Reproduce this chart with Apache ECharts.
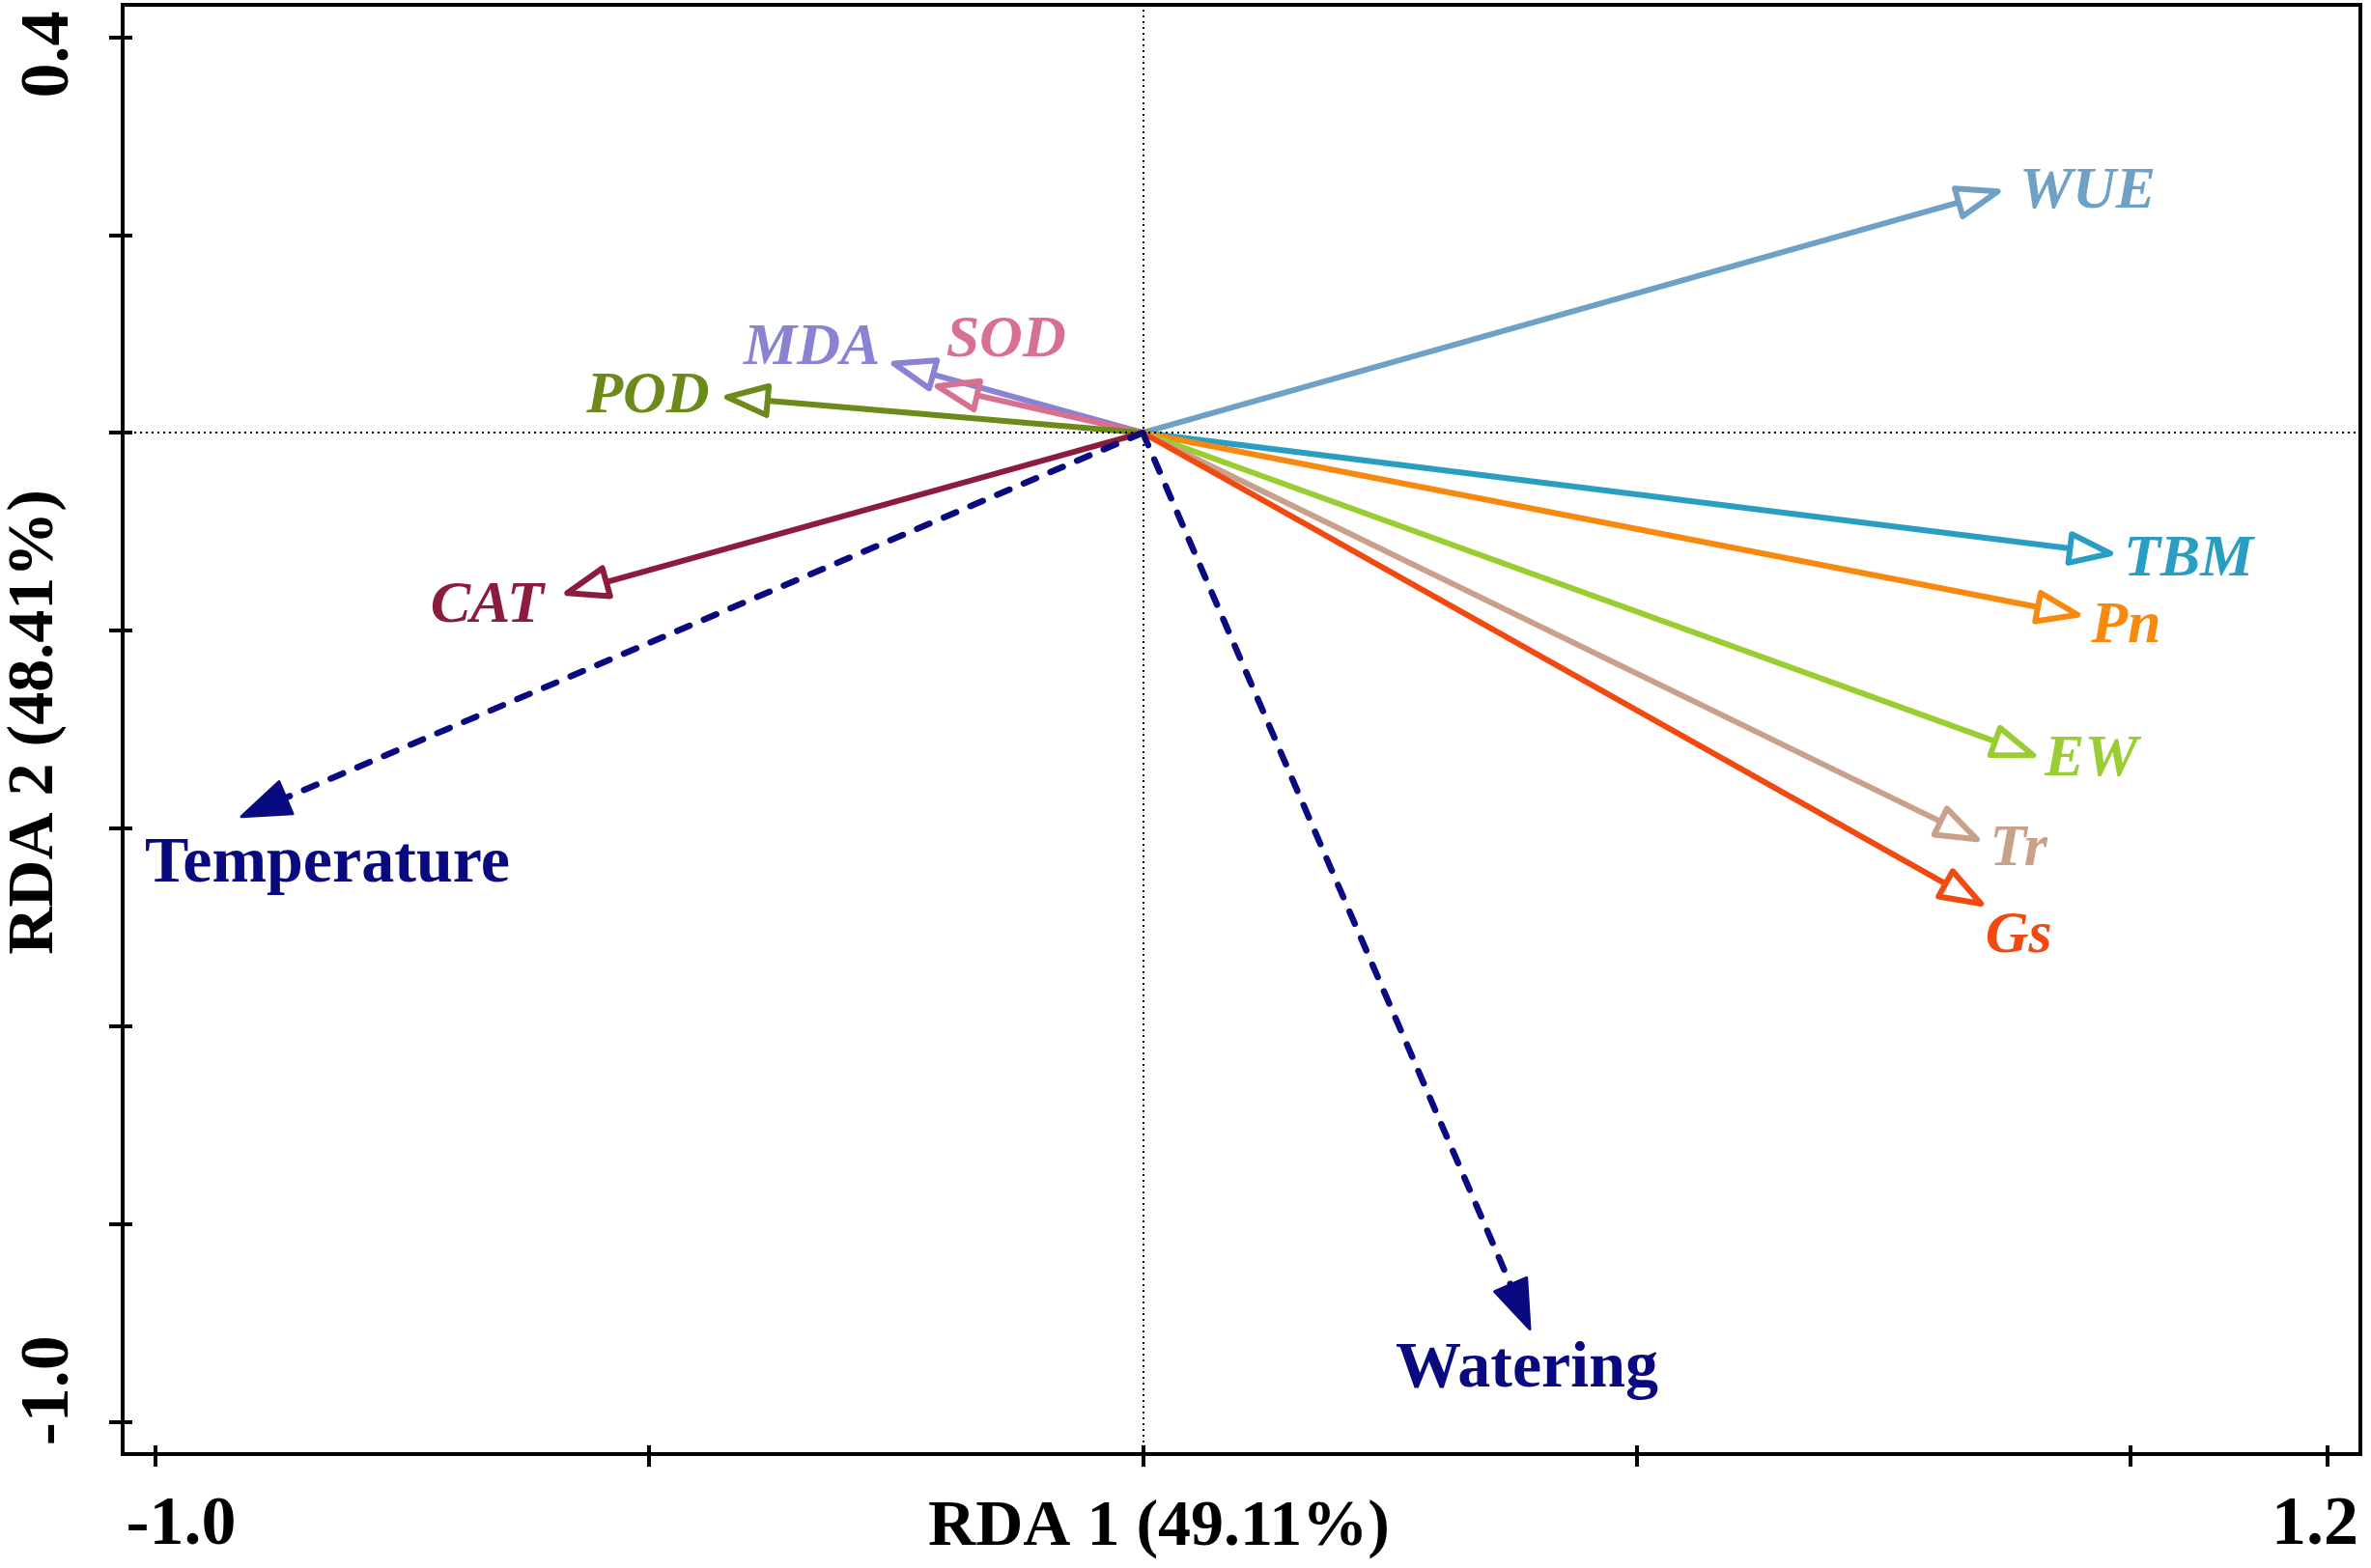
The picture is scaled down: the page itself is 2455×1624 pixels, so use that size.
<!DOCTYPE html>
<html>
<head>
<meta charset="utf-8">
<script src="https://cdn.jsdelivr.net/npm/echarts@6.0.0/dist/echarts.min.js"></script>
<style>
  html, body { margin: 0; padding: 0; background: #ffffff; }
  #chart { width: 2455px; height: 1624px; }
</style>
</head>
<body>
<div id="chart"></div>
<script>
// ---- data ----
const variables = ['WUE', 'TBM', 'Pn', 'EW', 'Tr', 'Gs', 'MDA', 'SOD', 'POD', 'CAT'];
const rda1 = [0.866, 0.980, 0.947, 0.902, 0.845, 0.849, -0.252, -0.208, -0.421, -0.583];
const rda2 = [0.244, -0.122, -0.184, -0.326, -0.411, -0.476, 0.070, 0.047, 0.036, -0.162];
const envFactors = ['Temperature', 'Watering'];
const envRda1 = [-0.913, 0.392];
const envRda2 = [-0.388, -0.906];
const xTicks = [-1.0, -0.5, 0, 0.5, 1.0, 1.2];
const xTickLabels = [-1.0, 1.2];
const yTicks = [-1.0, -0.8, -0.6, -0.4, -0.2, 0, 0.2, 0.4];
const yTickLabels = [-1.0, 0.4];
const xName = 'RDA 1 (49.11%)';
const yName = 'RDA 2 (48.41%)';

// ---- styles ----
const FONT = 'Liberation Serif, Times New Roman, serif';
const varColors = {
  WUE: '#6FA1C6', TBM: '#2A9DC2', Pn: '#F7890F', EW: '#9ACD32', Tr: '#C9A08A',
  Gs: '#F04A10', MDA: '#8A82D2', SOD: '#D8708F', POD: '#6B8A1A', CAT: '#8B1C3C'
};
const envColor = '#0A0A80';
// label centre offsets from the arrow tip, in pixels
const labelOffsets = {
  WUE: [93, 1], TBM: [81, 7], Pn: [50, 12], EW: [60, 5], Tr: [43, 11], Gs: [39, 34],
  MDA: [-85, -16], SOD: [71, -47], POD: [-82, 0], CAT: [-83, 14],
  Temperature: [89, 50], Watering: [-3, 42]
};

function arrowGeom(api, x, y, depth, hw) {
  const o = api.coord([0, 0]);
  const t = api.coord([x, y]);
  const dx = t[0] - o[0], dy = t[1] - o[1];
  const len = Math.hypot(dx, dy);
  const ux = dx / len, uy = dy / len;
  const b = [t[0] - ux * depth, t[1] - uy * depth];
  const p1 = [b[0] - uy * hw, b[1] + ux * hw];
  const p2 = [b[0] + uy * hw, b[1] - ux * hw];
  return { o, t, b, p1, p2 };
}

function renderVar(params, api) {
  const i = params.dataIndex;
  const name = variables[i];
  const col = varColors[name];
  const g = arrowGeom(api, api.value(0), api.value(1), 42, 15);
  const off = labelOffsets[name];
  return {
    type: 'group',
    children: [
      { type: 'line', shape: { x1: g.o[0], y1: g.o[1], x2: g.b[0], y2: g.b[1] },
        style: { stroke: col, lineWidth: 6 } },
      { type: 'polygon', shape: { points: [g.t, g.p1, g.p2] },
        style: { stroke: col, fill: 'none', lineWidth: 6, lineJoin: 'round' } },
      { type: 'text', style: { x: g.t[0] + off[0], y: g.t[1] + off[1], text: name, fill: col,
        fontFamily: FONT, fontSize: 62, fontWeight: 'bold', fontStyle: 'italic',
        align: 'center', verticalAlign: 'middle' } }
    ]
  };
}

function renderEnv(params, api) {
  const i = params.dataIndex;
  const name = envFactors[i];
  const g = arrowGeom(api, api.value(0), api.value(1), 50, 18);
  const off = labelOffsets[name];
  return {
    type: 'group',
    children: [
      { type: 'line', shape: { x1: g.o[0], y1: g.o[1], x2: g.b[0], y2: g.b[1] },
        style: { stroke: envColor, lineWidth: 6.5, lineDash: [14, 16], lineCap: 'round' } },
      { type: 'polygon', shape: { points: [g.t, g.p1, g.p2] },
        style: { stroke: envColor, fill: envColor, lineWidth: 3, lineJoin: 'round' } },
      { type: 'text', style: { x: g.t[0] + off[0], y: g.t[1] + off[1], text: name, fill: envColor,
        fontFamily: FONT, fontSize: 68, fontWeight: 'bold',
        align: 'center', verticalAlign: 'middle' } }
    ]
  };
}

const tickLabelStyle = { fontFamily: FONT, fontSize: 72, fontWeight: 'bold', color: '#000' };

const chart = echarts.init(document.getElementById('chart'), null, { renderer: 'canvas' });
chart.setOption({
  animation: false,
  backgroundColor: '#ffffff',
  grid: {
    left: 127, right: 11, top: 5, bottom: 118,
    show: true, borderColor: '#000', borderWidth: 4, backgroundColor: 'transparent',
    containLabel: false, outerBoundsMode: 'none'
  },
  xAxis: [
    {
      type: 'value', min: -1.0333, max: 1.2333, position: 'bottom',
      axisLine: { show: true, onZero: false, lineStyle: { color: '#000', width: 4 } },
      axisTick: { show: true, customValues: xTicks, length: 13, lineStyle: { color: '#000', width: 4 } },
      axisLabel: {
        show: true, customValues: xTickLabels, margin: 38,
        formatter: v => (v < 0 ? '{a|-1.0}' : '{b|1.2}'),
        rich: {
          a: Object.assign({ padding: [0, 0, 0, 53] }, tickLabelStyle),
          b: Object.assign({ padding: [0, 26, 0, 0] }, tickLabelStyle)
        }
      },
      splitLine: { show: false },
      name: xName, nameLocation: 'middle', nameGap: 42, nameMoveOverlap: false,
      nameTextStyle: { fontFamily: FONT, fontSize: 68, fontWeight: 'bold', color: '#000', padding: [0, 171, 0, 0] }
    },
    {
      type: 'value', min: -1.0333, max: 1.2333, position: 'bottom',
      axisLine: { show: false, onZero: false },
      axisTick: { show: true, inside: true, customValues: xTicks, length: 9, lineStyle: { color: '#000', width: 4 } },
      axisLabel: { show: false },
      splitLine: { show: false }
    }
  ],
  yAxis: [
    {
      type: 'value', min: -1.0324, max: 0.4326, position: 'left',
      axisLine: { show: true, onZero: false, lineStyle: { color: '#000', width: 4 } },
      axisTick: { show: true, customValues: yTicks, length: 14, lineStyle: { color: '#000', width: 4 } },
      axisLabel: {
        show: true, customValues: yTickLabels, margin: 40, rotate: 90,
        formatter: v => (v < 0 ? '{a|-1.0}' : '{b|0.4}'),
        rich: {
          a: Object.assign({ padding: [0, 0, 0, 65] }, tickLabelStyle),
          b: Object.assign({ padding: [0, 36, 0, 0] }, tickLabelStyle)
        }
      },
      splitLine: { show: false },
      name: yName, nameLocation: 'middle', nameGap: 57, nameMoveOverlap: false,
      nameTextStyle: { fontFamily: FONT, fontSize: 68, fontWeight: 'bold', color: '#000', padding: [0, 0, 0, 15] }
    },
    {
      type: 'value', min: -1.0324, max: 0.4326, position: 'left',
      axisLine: { show: false, onZero: false },
      axisTick: { show: true, inside: true, customValues: yTicks, length: 10, lineStyle: { color: '#000', width: 4 } },
      axisLabel: { show: false },
      splitLine: { show: false }
    }
  ],
  series: [
    {
      type: 'scatter', xAxisIndex: 0, yAxisIndex: 0, data: [], silent: true,
      markLine: {
        silent: true, symbol: 'none', animation: false,
        label: { show: false },
        lineStyle: { color: '#000', width: 2, type: [2, 4] },
        data: [{ xAxis: 0 }, { yAxis: 0 }]
      }
    },
    {
      type: 'custom', name: 'variables', xAxisIndex: 0, yAxisIndex: 0,
      renderItem: renderVar, clip: false, silent: true,
      data: variables.map((n, i) => [rda1[i], rda2[i]])
    },
    {
      type: 'custom', name: 'environment', xAxisIndex: 0, yAxisIndex: 0,
      renderItem: renderEnv, clip: false, silent: true,
      data: envFactors.map((n, i) => [envRda1[i], envRda2[i]])
    }
  ]
});
</script>
</body>
</html>
